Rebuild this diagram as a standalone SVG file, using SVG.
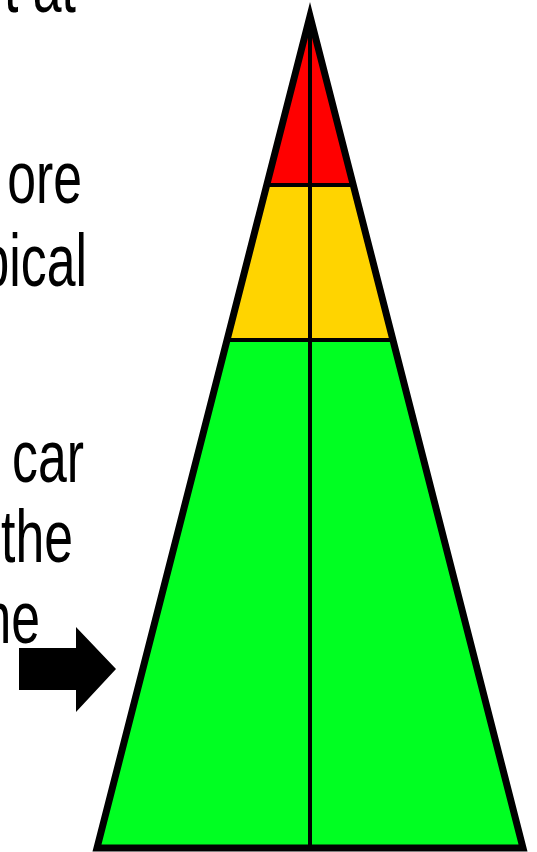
<svg xmlns="http://www.w3.org/2000/svg" width="537" height="852" viewBox="0 0 537 852">
  <style>
    .txt { font-family: "Liberation Sans", Arial, sans-serif; font-size: 74px; fill: #000; text-anchor: end; }
    .div { stroke: #000; stroke-width: 4; fill: none; }
    .outline { stroke: #000; stroke-width: 7; fill: none; stroke-linejoin: miter; stroke-miterlimit: 10; }
  </style>
  <rect width="537" height="852" fill="#fff"/>
  <g id="text">
    <text class="txt" transform="translate(76,12) scale(0.7,1)">t at</text>
    <text class="txt" transform="translate(82,203) scale(0.7,1)">ore</text>
    <text class="txt" transform="translate(87,286) scale(0.7,1)">pical</text>
    <text class="txt" transform="translate(84,482) scale(0.7,1)">car</text>
    <text class="txt" transform="translate(73,562) scale(0.7,1)">the</text>
    <text class="txt" transform="translate(40,643) scale(0.7,1)">ne</text>
  </g>
  <g id="pyramid">
    <polygon id="tier-top" points="310,16 353.3,185 266.7,185" fill="#FF0000"/>
    <polygon id="tier-middle" points="266.7,185 353.3,185 392.95,340 227.05,340" fill="#FFD400"/>
    <polygon id="tier-bottom" points="227.05,340 392.95,340 523,848 97,848" fill="#00FF22"/>
    <line class="div" x1="266.7" y1="185" x2="353.3" y2="185"/>
    <line class="div" x1="227.05" y1="340" x2="392.95" y2="340"/>
    <line class="div" x1="310" y1="16" x2="310" y2="848"/>
    <polygon class="outline" points="310,16 523,848 97,848"/>
  </g>
  <g id="connectors">
    <polygon id="arrow" points="19,648 76,648 76,627 116,669 76,712 76,690 19,690" fill="#000"/>
  </g>
</svg>
